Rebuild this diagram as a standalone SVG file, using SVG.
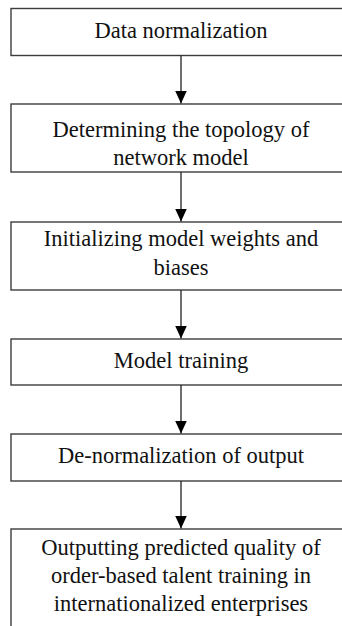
<svg xmlns="http://www.w3.org/2000/svg" width="342" height="626" viewBox="0 0 342 626">
<defs>
<style>
.box{fill:#fff;stroke:#3c3c3c;stroke-width:1.4}
.t{font-family:"Liberation Serif","DejaVu Serif",serif;font-size:22.5px;fill:#111;text-anchor:middle}
.c{stroke:#222;stroke-width:1.3;fill:none}
</style>
<marker id="ah" viewBox="0 0 13 12" refX="13" refY="6" markerWidth="13" markerHeight="12" markerUnits="userSpaceOnUse" orient="auto">
<path d="M0,0 L13,6 L0,12 Z" fill="#000"/>
</marker>
</defs>
<rect width="342" height="626" fill="#fff"/>
<g id="n1"><rect class="box" x="11" y="8.5" width="345" height="47"/><text class="t" x="181" y="38">Data normalization</text></g>
<g id="n2"><rect class="box" x="11" y="104" width="345" height="68"/><text class="t" x="181" y="137">Determining the topology of</text><text class="t" x="181" y="165">network model</text></g>
<g id="n3"><rect class="box" x="11" y="222" width="345" height="68"/><text class="t" x="181" y="246">Initializing model weights and</text><text class="t" x="181" y="275">biases</text></g>
<g id="n4"><rect class="box" x="11" y="339" width="345" height="46"/><text class="t" x="181" y="368">Model training</text></g>
<g id="n5"><rect class="box" x="11" y="434" width="345" height="47"/><text class="t" x="181" y="463">De-normalization of output</text></g>
<g id="n6"><rect class="box" x="11" y="529" width="345" height="110"/><text class="t" x="181" y="555">Outputting predicted quality of</text><text class="t" x="181" y="583">order-based talent training in</text><text class="t" x="181" y="611">internationalized enterprises</text></g>
<g id="connectors">
<line class="c" x1="181" y1="55.5" x2="181" y2="103.5" marker-end="url(#ah)"/>
<line class="c" x1="181" y1="172" x2="181" y2="221.5" marker-end="url(#ah)"/>
<line class="c" x1="181" y1="290" x2="181" y2="338.5" marker-end="url(#ah)"/>
<line class="c" x1="181" y1="385" x2="181" y2="433.5" marker-end="url(#ah)"/>
<line class="c" x1="181" y1="481" x2="181" y2="528.5" marker-end="url(#ah)"/>
</g>
</svg>
